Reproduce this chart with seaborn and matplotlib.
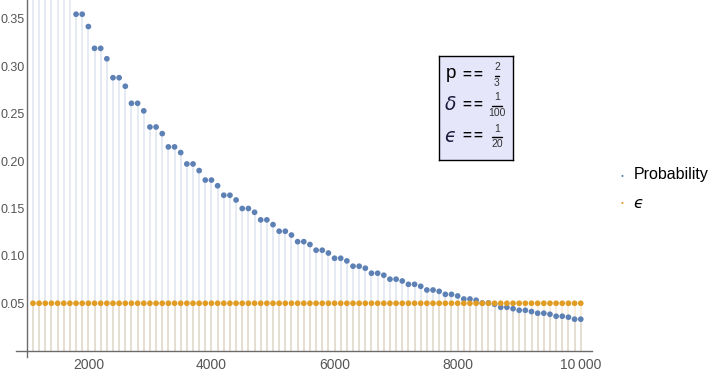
import numpy as np
import pandas as pd
import matplotlib
matplotlib.use("Agg")
import matplotlib.pyplot as plt
import seaborn as sns

# ---- data ----
n_values = list(range(1100, 10001, 100))
probability = [
    0.481, 0.444, 0.444, 0.427, 0.396, 0.396, 0.382,           # 1100-1700 (above the plot range)
    0.355, 0.355, 0.342, 0.319, 0.319, 0.308, 0.288, 0.288, 0.279,  # 1800-2600
    0.261, 0.261, 0.253, 0.236, 0.236, 0.229, 0.215, 0.215, 0.209,  # 2700-3500
    0.197, 0.197, 0.190, 0.180, 0.180, 0.174, 0.164, 0.164, 0.159,  # 3600-4400
    0.150, 0.150, 0.146, 0.138, 0.138, 0.133, 0.126, 0.126, 0.122,  # 4500-5300
    0.115, 0.115, 0.112, 0.106, 0.106, 0.103, 0.0975, 0.0975, 0.0947,  # 5400-6200
    0.0891, 0.0891, 0.0870, 0.0817, 0.0817, 0.0796, 0.0754, 0.0754, 0.0735,  # 6300-7100
    0.0700, 0.0700, 0.0679, 0.0640, 0.0640, 0.0626, 0.0594, 0.0594, 0.0577,  # 7200-8000
    0.0545, 0.0545, 0.0532, 0.0503, 0.0503, 0.0490, 0.0458, 0.0458, 0.0443,  # 8100-8900
    0.0426, 0.0426, 0.0412, 0.0395, 0.0395, 0.0384, 0.0363, 0.0363, 0.0353,  # 9000-9800
    0.0332, 0.0332,                                             # 9900-10000
]
epsilon = [0.05] * len(n_values)

x_major = [2000, 4000, 6000, 8000, 10000]
x_major_labels = ["2000", "4000", "6000", "8000", "10\u2009000"]
y_major = [0.05, 0.10, 0.15, 0.20, 0.25, 0.30, 0.35]
y_major_labels = ["0.05", "0.10", "0.15", "0.20", "0.25", "0.30", "0.35"]

series_names = ["Probability", "\u03f5"]
param_names = ["p", "\u03b4", "\u03f5"]
param_num = ["2", "1", "1"]
param_den = ["3", "100", "20"]

# ---- style ----
BLUE = (0.368417, 0.506779, 0.709798)
ORANGE = (0.880722, 0.611041, 0.142051)
AXIS_GRAY = "#6b6b6b"
TICK_FONT = ["Liberation Sans", "DejaVu Sans"]

sns.set_theme(style="white")
plt.rcParams["font.family"] = ["Liberation Sans", "DejaVu Sans"]

df = pd.DataFrame({
    "n": n_values * 2,
    "value": probability + epsilon,
    "series": [series_names[0]] * len(n_values) + [series_names[1]] * len(n_values),
})

fig = plt.figure(figsize=(7.13, 3.77), dpi=100)
W, H = 713, 377
ax_l, ax_r, ax_t, ax_b = 16, 592, 0, 357
ax = fig.add_axes([ax_l / W, 1 - ax_b / H, (ax_r - ax_l) / W, (ax_b - ax_t) / H])
ax.set_facecolor("white")

# stems (filling to axis)
ax.vlines(n_values, 0, probability, colors=[BLUE], alpha=0.2, lw=1.1, zorder=1)
ax.vlines(n_values, 0, epsilon, colors=[ORANGE], alpha=0.2, lw=1.1, zorder=1)

sns.scatterplot(data=df, x="n", y="value", hue="series",
                palette={series_names[0]: BLUE, series_names[1]: ORANGE},
                s=17, linewidth=0, ax=ax, zorder=3, legend=False, clip_on=True)

ax.set_xlim(824, 10183)
ax.set_ylim(-0.0067, 0.370)

for side in ["top", "right"]:
    ax.spines[side].set_visible(False)
ax.spines["left"].set_position(("data", 1000))
ax.spines["bottom"].set_position(("data", 0))
for side in ["left", "bottom"]:
    ax.spines[side].set_color(AXIS_GRAY)
    ax.spines[side].set_linewidth(1.0)

ax.set_xticks(x_major)
ax.set_xticklabels(x_major_labels)
ax.set_xticks([v for v in range(1500, 10001, 500) if v not in x_major], minor=True)
ax.set_yticks(y_major)
ax.set_yticklabels(y_major_labels)
ax.set_yticks([round(v * 0.01, 2) for v in range(1, 37) if v % 5 != 0], minor=True)

ax.tick_params(axis="both", which="major", direction="in", length=4, width=0.8,
               color=AXIS_GRAY, labelcolor="#555555", labelsize=10)
ax.tick_params(axis="y", which="major", labelsize=9, pad=1.5)
ax.tick_params(axis="x", which="major", pad=5)
ax.tick_params(axis="both", which="minor", direction="in", length=2.5, width=0.7,
               color=AXIS_GRAY)
for lab in ax.get_xticklabels() + ax.get_yticklabels():
    lab.set_family(TICK_FONT)
ax.set_xlabel("")
ax.set_ylabel("")

# ---- legend ----
fig.text(622 / W, 1 - 175 / H, "\u25cf", color=BLUE, fontsize=3.5, ha="center", va="center")
fig.text(634 / W, 1 - 174 / H, series_names[0], color="black", fontsize=11.5, ha="left", va="center",
         family=["Liberation Sans", "DejaVu Sans"])
fig.text(622 / W, 1 - 203 / H, "\u25cf", color=ORANGE, fontsize=3.5, ha="center", va="center")
fig.text(634 / W, 1 - 203 / H, series_names[1], color="black", fontsize=11.5, ha="left", va="center",
         style="italic", family=["DejaVu Sans"])

# ---- parameter box ----
bx_l, bx_r, bx_t, bx_b = 439, 513, 56, 160
box = fig.add_axes([bx_l / W, 1 - bx_b / H, (bx_r - bx_l) / W, (bx_b - bx_t) / H])
box.set_facecolor("#E6E6FA")
box.set_xticks([])
box.set_yticks([])
for s in box.spines.values():
    s.set_color("black")
    s.set_linewidth(1.0)
box.set_xlim(bx_l, bx_r)
box.set_ylim(bx_b, bx_t)

row_y = [75, 105, 136]
for i, name in enumerate(param_names):
    y = row_y[i]
    if i == 0:
        box.text(445.5, y - 1, name, fontsize=13.5, ha="left", va="center", color="black",
                 family=["Liberation Sans", "DejaVu Sans"])
    else:
        box.text(444.5, y, name, fontsize=13.5, ha="left", va="center", color="#1a1a3a",
                 style="italic", family=["DejaVu Sans"])
    box.text(467, y, "=", fontsize=11, ha="center", va="center", color="black",
             weight="bold", family=["Liberation Sans", "DejaVu Sans"])
    box.text(477.5, y, "=", fontsize=11, ha="center", va="center", color="black",
             weight="bold", family=["Liberation Sans", "DejaVu Sans"])
    fx = 497
    box.text(fx, y - 7.5, param_num[i], fontsize=7.5, ha="center", va="center", color="#333333",
             family=TICK_FONT)
    box.text(fx, y + 8, param_den[i], fontsize=7.5, ha="center", va="center", color="#333333",
             family=TICK_FONT)
    half = 2.0 if i == 0 else 5.0
    box.plot([fx - half, fx + half], [y + 0.5, y + 0.5], color="black", lw=1.0)

fig.savefig("out.png", dpi=100)
